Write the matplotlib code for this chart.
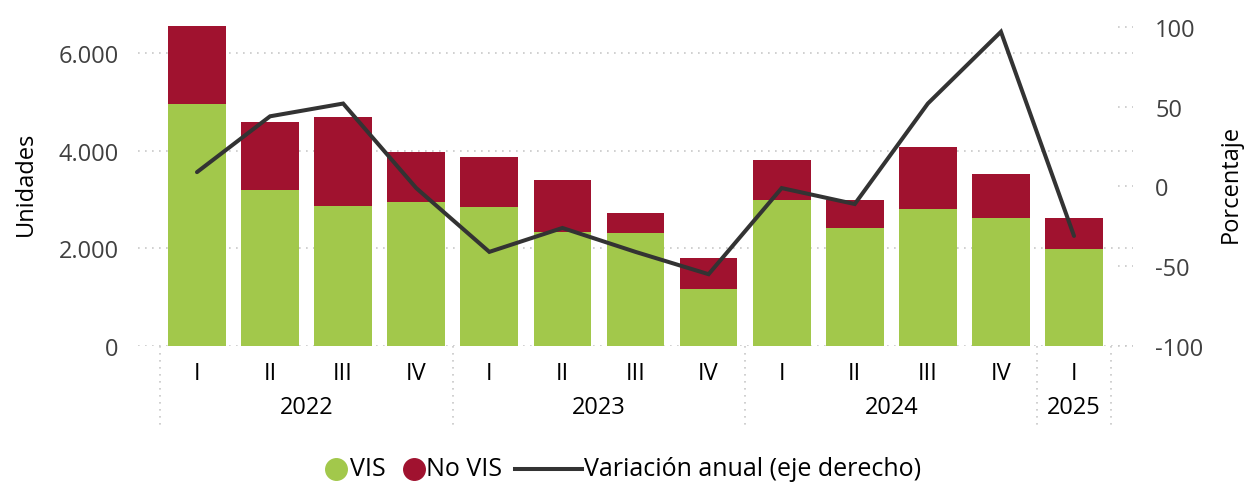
import matplotlib
matplotlib.use("Agg")
import matplotlib.pyplot as plt
from matplotlib.lines import Line2D
import numpy as np

plt.rcParams['font.family'] = ['Open Sans', 'DejaVu Sans']

quarters = ["I", "II", "III", "IV", "I", "II", "III", "IV", "I", "II", "III", "IV", "I"]
years = ["2022", "2023", "2024", "2025"]
year_spans = [(0, 3), (4, 7), (8, 11), (12, 12)]
vis = [4970, 3200, 2870, 2950, 2850, 2340, 2320, 1170, 2995, 2420, 2810, 2625, 1990]
total = [6570, 4595, 4700, 3980, 3880, 3405, 2730, 1805, 3815, 2995, 4080, 3530, 2625]
no_vis = [t - v for t, v in zip(total, vis)]
variacion = [9, 44, 52, -1, -41, -26, -41, -55, -1, -11, 52, 97, -31]

GREEN = "#A2C84B"
RED = "#A0122F"
LINE = "#333333"
GRID = "#c8c8c8"
TXT = "#404040"

W, H = 1246, 485
fig = plt.figure(figsize=(W / 100, H / 100), dpi=100)
ax = fig.add_axes([138/W, (H-347)/H, (1133-138)/W, 327/H])
ax2 = ax.twinx()

x = np.arange(len(quarters))
ax.bar(x, vis, width=0.79, color=GREEN, zorder=2)
ax.bar(x, no_vis, bottom=vis, width=0.79, color=RED, zorder=2)
ax2.plot(x, variacion, color=LINE, lw=2.9, solid_capstyle='round', solid_joinstyle='miter', zorder=3)

ax.set_xlim(-0.807, 12.807)
ax.set_ylim(0, 6707)
ax2.set_ylim(-100, 105)

ax.set_yticks([0, 2000, 4000, 6000])
ax.set_yticklabels(["0", "2.000", "4.000", "6.000"])
ax2.set_yticks([-100, -50, 0, 50, 100])
ax2.set_yticklabels(["-100", "-50", "0", "50", "100"])

for a in (ax, ax2):
    for s in a.spines.values():
        s.set_visible(False)
ax.set_axisbelow(True)
ax.yaxis.grid(True, color=GRID, linestyle=(0, (1, 3.2)), lw=1.2)
ax.tick_params(axis='y', length=0, labelsize=17, labelcolor=TXT, pad=14)
ax2.tick_params(axis='y', length=0, labelsize=17, labelcolor=TXT, pad=16)
for yv in [-100, -50, 0, 50, 100]:
    ax2.plot([0.985, 1.0], [yv, yv], transform=ax2.get_yaxis_transform(), color=GRID,
             linestyle=(0, (1, 3.2)), lw=1.2, clip_on=False)

ax.set_xticks(x)
ax.set_xticklabels(quarters)
ax.tick_params(axis='x', length=0, labelsize=17, labelcolor='black', pad=11)

ax.set_ylabel("Unidades", fontsize=17, color='black', labelpad=15)
ax2.set_ylabel("Porcentaje", fontsize=17, color='black', labelpad=11)

trans = ax.get_xaxis_transform()
for b in [-0.5, 3.5, 7.5, 11.5, 12.5]:
    ax.plot([b, b], [0, -0.248], transform=trans, color=GRID, linestyle=(0, (1, 3.2)),
            lw=1.2, clip_on=False)
for yr, (s, e) in zip(years, year_spans):
    ax.text((s + e) / 2, -0.187, yr, transform=trans, ha='center', va='center', fontsize=17, color='black')

# legend (manual, to mimic compact marker-label spacing)
ly = (H - 470) / H
fig.add_artist(Line2D([336 / W], [ly], marker='o', color=GREEN, linestyle='None', markersize=15.5,
                      transform=fig.transFigure))
fig.text(350 / W, ly, "VIS", ha='left', va='center', fontsize=18, color='black')
fig.add_artist(Line2D([414 / W], [ly], marker='o', color=RED, linestyle='None', markersize=15.5,
                      transform=fig.transFigure))
fig.text(426 / W, ly, "No VIS", ha='left', va='center', fontsize=18, color='black')
fig.add_artist(Line2D([515 / W, 582 / W], [ly, ly], color=LINE, lw=2.9, transform=fig.transFigure))
fig.text(584 / W, ly, "Variación anual (eje derecho)", ha='left', va='center', fontsize=18, color='black')

fig.savefig("out.png", dpi=100)
